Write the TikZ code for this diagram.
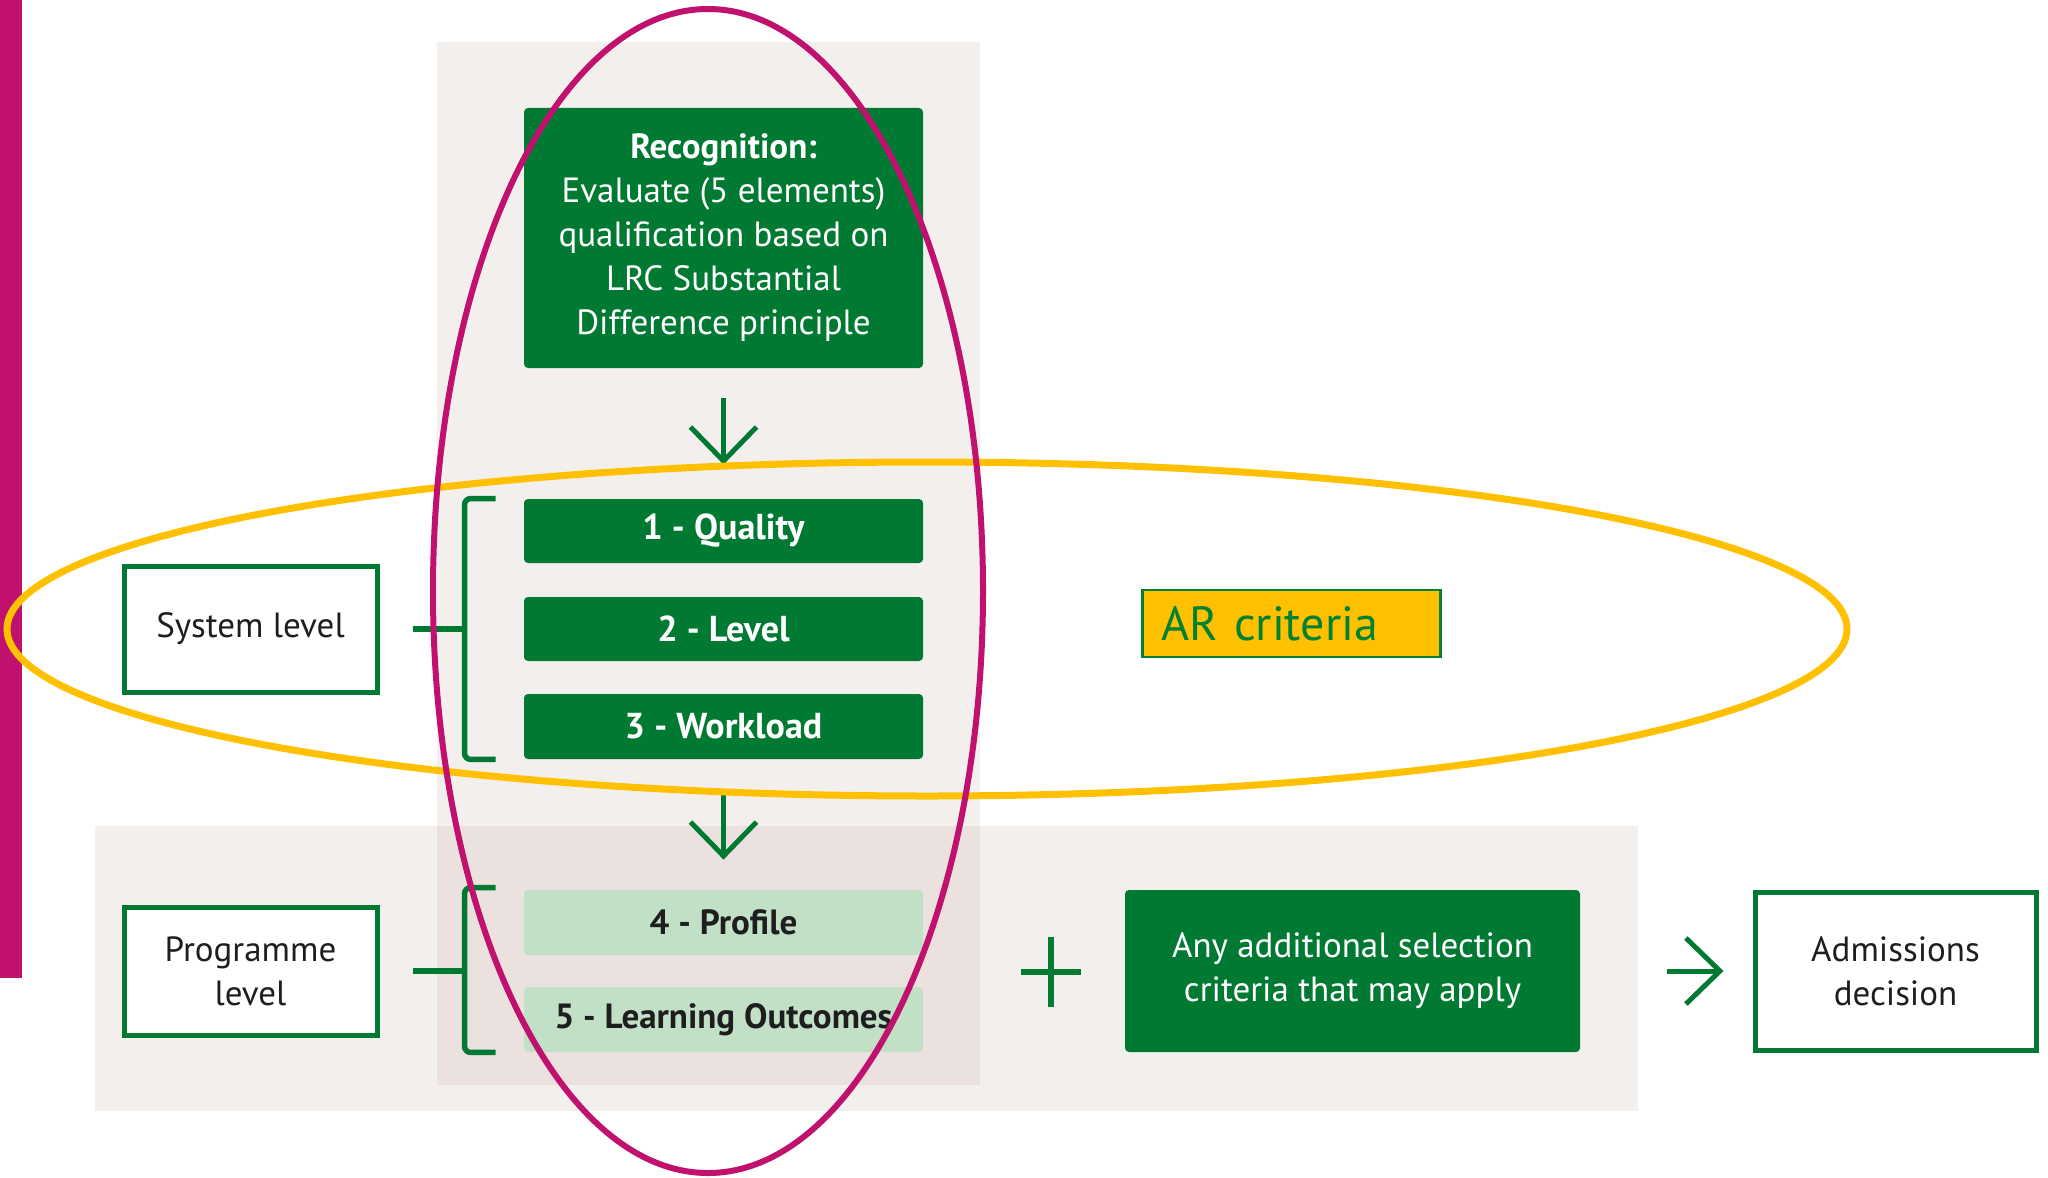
\documentclass[tikz,border=0pt]{standalone}
\usepackage{fontspec}
\setmainfont{PT Sans}
\usetikzlibrary{arrows.meta}
\definecolor{dgreen}{RGB}{0,122,51}
\definecolor{argreen}{RGB}{0,130,50}
\definecolor{lgreen}{RGB}{194,224,198}
\definecolor{panelc}{RGB}{243,239,237}
\definecolor{overlapc}{RGB}{235,226,223}
\definecolor{magc}{RGB}{192,17,111}
\definecolor{ayellow}{RGB}{255,192,0}
\definecolor{txtc}{RGB}{30,30,30}
\begin{document}
\begin{tikzpicture}[x=0.5pt,y=-0.5pt,
  lbl/.style={font=\fontsize{17.5}{22}\selectfont},
  gbox/.style={lbl, fill=dgreen, text=white, rounded corners=2pt, minimum width=199.5pt, inner sep=0pt, align=center},
  lbox/.style={lbl, fill=lgreen, text=txtc, rounded corners=2pt, minimum width=199.5pt, minimum height=32.5pt, inner sep=0pt, font=\fontsize{17.5}{22}\selectfont\bfseries},
  obox/.style={lbl, draw=dgreen, line width=2.5pt, fill=white, text=txtc, inner sep=0pt, align=center},
  arbox/.style={fill=ayellow, draw=argreen, line width=1.2pt, minimum height=33.5pt, text width=130pt, align=left, inner xsep=9.5pt, inner ysep=0pt, text=argreen, font=\fontsize{24}{27}\selectfont},
  bracket/.style={dgreen, line width=2.75pt, rounded corners=3pt},
  arr/.style={dgreen, line width=2.5pt, -{Straight Barb[length=17pt,width=33pt]}},
]
\useasboundingbox (0,0) rectangle (2048,1177);
% panels
\fill[panelc] (437,42) rectangle (980,1085);
\fill[panelc] (95,826) rectangle (1638,1111);
\fill[overlapc] (437,826) rectangle (980,1085);
% magenta bar
\fill[magc] (0,0) rectangle (22,978);
% green boxes
\node[gbox, minimum height=130pt] (rec) at (723.5,238) {\textbf{Recognition:}\\Evaluate (5 elements)\\qualification based on\\LRC Substantial\\Difference principle};
\node[gbox, minimum height=32pt, font=\fontsize{18}{22}\selectfont\bfseries] (q1) at (723.5,531) {1 - Quality};
\node[gbox, minimum height=32pt, font=\fontsize{18}{22}\selectfont\bfseries] (q2) at (723.5,629) {2 - Level};
\node[gbox, minimum height=32.5pt, font=\fontsize{18}{22}\selectfont\bfseries] (q3) at (723.5,726.5) {3 - Workload};
\node[lbox] (q4) at (723.5,922.5) {4 - Profile};
\node[lbox] (q5) at (723.5,1019.5) {5 - Learning Outcomes};
\node[gbox, minimum width=227.5pt, minimum height=81pt] (add) at (1352.5,971) {Any additional selection\\criteria that may apply};
% outline boxes
\node[obox, minimum width=126.5pt, minimum height=63pt] (sys) at (250.5,629) {System level};
\node[obox, minimum width=126.5pt, minimum height=64pt] (prog) at (250.5,971) {Programme\\level};
\node[obox, minimum width=140.5pt, minimum height=79pt] (adm) at (1895.5,971) {Admissions\\decision};
% AR criteria
\node[arbox] (ar) at (1291.5,623.5) {AR criteria};
% brackets
\coordinate (br) at ([xshift=-29.5pt]q1.west);
\draw[bracket] ([xshift=-14pt]q1.north west) -- ++(-31,0) |- ([xshift=-14pt]q3.south west);
\draw[bracket, shorten <=16.5pt] (sys.east) -- (sys.east -| br);
\draw[bracket] ([xshift=-14pt,yshift=1pt]q4.north west) -- ++(-31,0) |- ([xshift=-14pt]q5.south west);
\draw[bracket, shorten <=16.5pt] (prog.east) -- (prog.east -| br);
% arrows
\draw[arr, shorten <=15pt, shorten >=17pt] (rec.south) -- (q1.north);
\draw[arr, shorten <=18pt, shorten >=15pt] (q3.south) -- (q4.north);
\draw[arr, shorten <=43.5pt, shorten >=14.5pt] (add.east) -- (adm.west);
% plus
\coordinate (plus) at (1051,972);
\draw[dgreen, line width=2.75pt] ([xshift=-15pt]plus) -- ([xshift=15pt]plus);
\draw[dgreen, line width=2.75pt] ([yshift=17.5pt]plus) -- ([yshift=-17.5pt]plus);
% ellipses
\draw[ayellow, line width=3.5pt] (927,629) ellipse [x radius=460pt, y radius=83.5pt];
\draw[magc, line width=3pt] (708,591) ellipse [x radius=137.5pt, y radius=291pt];
\end{tikzpicture}
\end{document}
